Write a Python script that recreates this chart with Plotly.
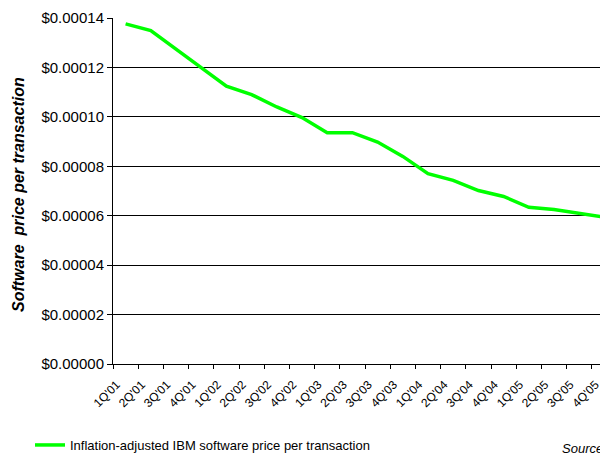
"""Inflation-adjusted IBM software price per transaction."""

import plotly.graph_objects as go

quarters = [
    "1Q'01", "2Q'01", "3Q'01", "4Q'01",
    "1Q'02", "2Q'02", "3Q'02", "4Q'02",
    "1Q'03", "2Q'03", "3Q'03", "4Q'03",
    "1Q'04", "2Q'04", "3Q'04", "4Q'04",
    "1Q'05", "2Q'05", "3Q'05", "4Q'05",
]
price_per_transaction = [
    0.0001376, 0.0001349, 0.0001274, 0.0001199,
    0.0001124, 0.0001090, 0.0001040, 0.0000997,
    0.0000936, 0.0000936, 0.0000898, 0.0000840,
    0.0000770, 0.0000743, 0.0000702, 0.0000678,
    0.0000634, 0.0000625, 0.0000610, 0.0000594,
]
series_name = "Inflation-adjusted IBM software price per transaction"
y_title = "Software\u00a0 price per transaction"

FONT = "Liberation Sans, Arial, sans-serif"

# страница html добавляет отступ body 8px, поэтому всё сдвинуто на 8px
OFF = 8
# область построения в координатах окна
L, T, R, B = 113 - OFF, 18 - OFF, 608, 364 - OFF
W, H = R - L, B - T
STEP = 25.2  # ширина категории в пикселях


def px_x(x):
    """Пиксель окна -> доля области построения по X."""
    return (x - OFF - L) / W


def px_y(y):
    """Пиксель окна -> доля области построения по Y."""
    return (B - (y - OFF)) / H


fig = go.Figure()

fig.add_trace(
    go.Scatter(
        x=quarters,
        y=price_per_transaction,
        mode="lines",
        name=series_name,
        line=dict(color="#00FF00", width=3.5),
    )
)

# подпись оси Y
fig.add_annotation(
    text="<b><i>" + y_title + "</i></b>",
    xref="paper",
    yref="paper",
    x=px_x(18),
    y=px_y(195),
    xanchor="center",
    yanchor="middle",
    textangle=-90,
    showarrow=False,
    font=dict(size=16, color="black", family=FONT),
)

# подпись источника, обрезана правым краем как в оригинале
fig.add_annotation(
    text="<i>Source:</i>",
    xref="paper",
    yref="paper",
    x=px_x(560),
    y=px_y(448),
    xanchor="left",
    yanchor="middle",
    showarrow=False,
    font=dict(size=13, color="black", family=FONT),
)

fig.update_layout(
    width=608,
    height=453,
    margin=dict(l=L, r=608 - R, t=T, b=453 - B, autoexpand=False),
    paper_bgcolor="white",
    plot_bgcolor="white",
    font=dict(family=FONT, color="black"),
    showlegend=True,
    legend=dict(
        x=px_x(30),
        y=px_y(445),
        xanchor="left",
        yanchor="middle",
        font=dict(size=13),
        bgcolor="rgba(0,0,0,0)",
    ),
    xaxis=dict(
        type="category",
        range=[-0.5, -0.5 + W / STEP],
        tickangle=-45,
        tickfont=dict(size=12),
        ticks="outside",
        ticklen=4,
        tickcolor="black",
        tickson="boundaries",
        ticklabelstandoff=8,
        ticklabelshift=-9,
        showline=True,
        linecolor="black",
        linewidth=1,
        showgrid=False,
        zeroline=False,
    ),
    yaxis=dict(
        range=[0, 0.00014],
        dtick=0.00002,
        tickprefix="$",
        tickformat=".5f",
        tickfont=dict(size=15),
        ticks="outside",
        ticklen=5,
        tickcolor="black",
        showline=True,
        linecolor="black",
        linewidth=1,
        gridcolor="black",
        gridwidth=1,
        zeroline=False,
    ),
)

fig.write_html("out.html")
